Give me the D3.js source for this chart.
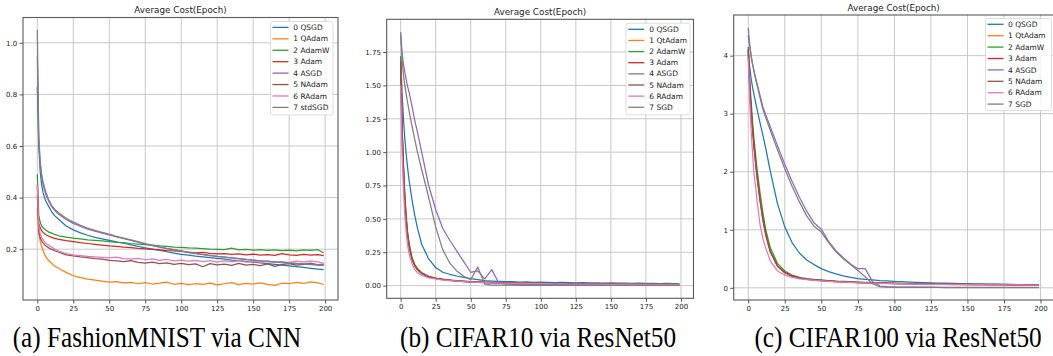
<!DOCTYPE html>
<html><head><meta charset="utf-8">
<script src="https://cdn.jsdelivr.net/npm/d3@7/dist/d3.min.js"></script>
<style>
html,body{margin:0;padding:0;background:#fff;}
svg{display:block;}
text{font-family:"DejaVu Sans",sans-serif;}
</style></head><body>
<svg id="chart" width="1053" height="356"></svg>
<script>
// ---------- data ----------
const epochs = [0,1,2,3,4,5,6,8,10,12,15,20,25,30,35,40,45,50,55,60,65,70,75,80,85,90,95,100,105,110,115,120,125,130,135,140,145,150,155,160,165,170,175,180,185,190,195,199];
const xTicks = [0,25,50,75,100,125,150,175,200];
const titleText = "Average Cost(Epoch)";
const labelsA = ["0 QSGD","1 QAdam","2 AdamW","3 Adam","4 ASGD","5 NAdam","6 RAdam","7 stdSGD"];
const labelsB = ["0 QSGD","1 QtAdam","2 AdamW","3 Adam","4 ASGD","5 NAdam","6 RAdam","7 SGD"];
const labelsC = ["0 QSGD","1 QtAdam","2 AdamW","3 Adam","4 ASGD","5 NAdam","6 RAdam","7 SGD"];
const yTicksA = [0.2,0.4,0.6,0.8,1.0];
const yTicksB = [0,0.25,0.5,0.75,1.0,1.25,1.5,1.75];
const yTicksC = [0,1,2,3,4];
const captions = ["(a) FashionMNIST via CNN","(b) CIFAR10 via ResNet50","(c) CIFAR100 via ResNet50"];
const colors = ["#1f77b4","#ff7f0e","#2ca02c","#d62728","#9467bd","#8c564b","#e377c2","#7f7f7f"];

// (a) FashionMNIST via CNN
const qsgdA   = [0.83,0.60,0.50,0.45,0.42,0.40,0.385,0.365,0.345,0.33,0.315,0.29,0.275,0.263,0.254,0.246,0.240,0.234,0.228,0.223,0.217,0.211,0.205,0.200,0.195,0.190,0.185,0.180,0.177,0.173,0.170,0.167,0.164,0.161,0.158,0.156,0.153,0.150,0.147,0.144,0.141,0.138,0.135,0.132,0.129,0.126,0.123,0.121];
const qadamA  = [0.36,0.26,0.23,0.21,0.195,0.18,0.17,0.155,0.145,0.135,0.125,0.11,0.097,0.09,0.084,0.08,0.076,0.072,0.074,0.069,0.071,0.066,0.070,0.065,0.068,0.072,0.064,0.067,0.063,0.066,0.064,0.068,0.062,0.066,0.070,0.063,0.067,0.065,0.069,0.064,0.060,0.068,0.066,0.071,0.067,0.073,0.069,0.063];
const adamwA  = [0.49,0.33,0.305,0.29,0.283,0.278,0.273,0.266,0.262,0.257,0.252,0.247,0.243,0.240,0.236,0.234,0.232,0.229,0.226,0.225,0.222,0.220,0.218,0.216,0.213,0.211,0.208,0.207,0.205,0.204,0.202,0.200,0.199,0.198,0.204,0.197,0.199,0.196,0.198,0.195,0.197,0.194,0.196,0.193,0.197,0.195,0.198,0.185];
const adamA   = [0.45,0.30,0.283,0.272,0.265,0.26,0.256,0.25,0.246,0.242,0.238,0.233,0.229,0.225,0.222,0.219,0.216,0.213,0.211,0.208,0.206,0.203,0.201,0.199,0.197,0.194,0.193,0.191,0.189,0.186,0.188,0.184,0.182,0.183,0.180,0.182,0.178,0.181,0.177,0.179,0.176,0.183,0.178,0.176,0.180,0.177,0.179,0.175];
const asgdA   = [0.95,0.62,0.53,0.48,0.45,0.43,0.41,0.385,0.365,0.35,0.335,0.315,0.300,0.288,0.278,0.270,0.262,0.255,0.248,0.241,0.234,0.227,0.220,0.214,0.208,0.202,0.197,0.192,0.187,0.183,0.179,0.175,0.172,0.169,0.166,0.163,0.160,0.157,0.155,0.152,0.150,0.148,0.146,0.144,0.142,0.140,0.138,0.137];
const nadamA  = [0.41,0.27,0.245,0.232,0.224,0.218,0.212,0.205,0.199,0.194,0.188,0.178,0.174,0.170,0.167,0.163,0.161,0.157,0.155,0.152,0.156,0.149,0.146,0.150,0.144,0.147,0.141,0.145,0.140,0.143,0.132,0.144,0.139,0.142,0.137,0.145,0.138,0.141,0.136,0.143,0.133,0.140,0.144,0.138,0.141,0.146,0.139,0.142];
const radamA  = [0.45,0.29,0.26,0.245,0.236,0.229,0.223,0.215,0.208,0.20,0.193,0.183,0.178,0.175,0.172,0.170,0.168,0.166,0.169,0.163,0.161,0.164,0.159,0.162,0.157,0.160,0.155,0.158,0.154,0.157,0.152,0.156,0.150,0.155,0.151,0.156,0.150,0.153,0.149,0.155,0.150,0.152,0.148,0.154,0.150,0.155,0.151,0.145];
const stdsgdA = [1.05,0.64,0.54,0.49,0.46,0.44,0.42,0.39,0.37,0.355,0.34,0.32,0.305,0.292,0.282,0.273,0.265,0.258,0.250,0.243,0.236,0.229,0.222,0.215,0.209,0.203,0.198,0.193,0.188,0.184,0.180,0.176,0.172,0.169,0.166,0.163,0.160,0.158,0.155,0.153,0.151,0.149,0.147,0.145,0.143,0.142,0.140,0.139];

// (b) CIFAR10 via ResNet50
const qsgdB   = [1.72,1.45,1.25,1.10,0.98,0.88,0.79,0.65,0.53,0.43,0.31,0.20,0.135,0.10,0.085,0.072,0.062,0.052,0.045,0.038,0.034,0.031,0.029,0.030,0.027,0.028,0.025,0.026,0.024,0.023,0.024,0.022,0.021,0.022,0.020,0.021,0.019,0.020,0.018,0.019,0.017,0.018,0.016,0.017,0.015,0.016,0.015,0.013];
const qtadamB = [1.70,1.20,0.90,0.66,0.50,0.39,0.31,0.21,0.155,0.125,0.095,0.068,0.056,0.047,0.041,0.036,0.032,0.029,0.027,0.025,0.023,0.022,0.020,0.019,0.018,0.017,0.016,0.016,0.015,0.014,0.014,0.013,0.013,0.012,0.012,0.012,0.011,0.011,0.011,0.010,0.010,0.010,0.010,0.009,0.009,0.009,0.009,0.008];
const adamwB  = [1.72,1.22,0.92,0.68,0.52,0.40,0.32,0.215,0.16,0.128,0.097,0.070,0.057,0.048,0.042,0.037,0.033,0.030,0.028,0.026,0.024,0.023,0.021,0.020,0.019,0.018,0.017,0.017,0.016,0.015,0.015,0.014,0.014,0.013,0.013,0.013,0.012,0.012,0.012,0.011,0.011,0.011,0.011,0.010,0.010,0.010,0.010,0.009];
const adamB   = [1.68,1.18,0.88,0.65,0.49,0.38,0.30,0.205,0.152,0.122,0.093,0.067,0.055,0.046,0.040,0.035,0.031,0.028,0.026,0.024,0.022,0.021,0.020,0.019,0.018,0.017,0.016,0.016,0.015,0.014,0.014,0.013,0.013,0.012,0.012,0.012,0.011,0.011,0.011,0.010,0.010,0.010,0.010,0.009,0.009,0.009,0.009,0.008];
const asgdB   = [1.90,1.75,1.66,1.60,1.54,1.49,1.45,1.35,1.24,1.15,1.00,0.75,0.57,0.43,0.34,0.26,0.18,0.10,0.11,0.05,0.12,0.02,0.012,0.010,0.009,0.009,0.008,0.008,0.008,0.007,0.007,0.007,0.007,0.006,0.006,0.006,0.006,0.006,0.006,0.005,0.005,0.005,0.005,0.005,0.005,0.005,0.005,0.005];
const nadamB  = [1.66,1.15,0.86,0.63,0.48,0.37,0.29,0.20,0.148,0.118,0.09,0.065,0.053,0.045,0.039,0.034,0.030,0.027,0.025,0.023,0.021,0.020,0.019,0.018,0.017,0.016,0.015,0.015,0.014,0.013,0.013,0.012,0.012,0.011,0.011,0.011,0.010,0.010,0.010,0.009,0.009,0.009,0.009,0.008,0.008,0.008,0.008,0.007];
const radamB  = [1.50,1.00,0.72,0.52,0.39,0.30,0.24,0.165,0.12,0.098,0.076,0.058,0.050,0.042,0.037,0.033,0.029,0.026,0.024,0.022,0.020,0.019,0.018,0.017,0.016,0.015,0.015,0.014,0.014,0.013,0.013,0.012,0.012,0.011,0.011,0.011,0.010,0.010,0.010,0.009,0.009,0.009,0.009,0.008,0.008,0.008,0.008,0.007];
const sgdB    = [1.88,1.70,1.58,1.50,1.43,1.37,1.31,1.20,1.10,1.00,0.87,0.66,0.44,0.27,0.17,0.11,0.07,0.045,0.14,0.012,0.004,0.003,0.003,0.003,0.002,0.002,0.002,0.002,0.002,0.002,0.002,0.002,0.002,0.002,0.002,0.002,0.002,0.002,0.002,0.002,0.002,0.002,0.002,0.002,0.002,0.002,0.002,0.002];

// (c) CIFAR100 via ResNet50
const qsgdC   = [4.15,3.80,3.60,3.45,3.32,3.20,3.08,2.85,2.63,2.40,2.02,1.45,1.05,0.78,0.60,0.48,0.40,0.33,0.28,0.24,0.205,0.18,0.16,0.145,0.135,0.125,0.118,0.11,0.105,0.10,0.095,0.09,0.086,0.082,0.079,0.076,0.073,0.07,0.068,0.066,0.064,0.062,0.06,0.058,0.056,0.054,0.052,0.05];
const qtadamC = [4.00,3.45,3.05,2.70,2.40,2.15,1.90,1.50,1.16,0.90,0.62,0.37,0.26,0.20,0.17,0.15,0.135,0.125,0.115,0.105,0.10,0.095,0.09,0.085,0.082,0.079,0.076,0.073,0.07,0.068,0.066,0.064,0.062,0.060,0.058,0.057,0.056,0.055,0.054,0.053,0.052,0.051,0.050,0.049,0.048,0.047,0.046,0.045];
const adamwC  = [4.10,3.60,3.20,2.85,2.55,2.30,2.05,1.65,1.30,1.00,0.70,0.42,0.29,0.22,0.18,0.16,0.145,0.135,0.125,0.115,0.11,0.105,0.10,0.095,0.09,0.087,0.084,0.081,0.078,0.076,0.074,0.072,0.07,0.068,0.066,0.065,0.064,0.063,0.062,0.061,0.06,0.059,0.058,0.057,0.056,0.055,0.055,0.055];
const adamC   = [4.10,3.50,3.10,2.75,2.45,2.20,1.95,1.55,1.20,0.93,0.64,0.38,0.265,0.205,0.17,0.15,0.137,0.127,0.118,0.11,0.104,0.098,0.093,0.089,0.085,0.082,0.079,0.076,0.074,0.071,0.069,0.067,0.065,0.063,0.062,0.06,0.059,0.058,0.057,0.056,0.055,0.054,0.053,0.052,0.051,0.05,0.05,0.049];
const asgdC   = [4.35,4.15,3.98,3.85,3.73,3.62,3.52,3.32,3.12,2.98,2.78,2.45,2.13,1.83,1.56,1.32,1.12,1.01,0.80,0.64,0.52,0.41,0.33,0.33,0.11,0.03,0.02,0.015,0.013,0.012,0.011,0.010,0.010,0.009,0.009,0.009,0.008,0.008,0.008,0.008,0.008,0.007,0.007,0.007,0.007,0.007,0.007,0.007];
const nadamC  = [4.05,3.45,3.05,2.70,2.40,2.15,1.92,1.52,1.18,0.91,0.63,0.37,0.26,0.20,0.167,0.147,0.134,0.124,0.115,0.108,0.101,0.096,0.091,0.087,0.083,0.08,0.077,0.074,0.072,0.07,0.068,0.066,0.064,0.062,0.061,0.059,0.058,0.057,0.056,0.055,0.054,0.053,0.052,0.051,0.05,0.049,0.049,0.048];
const radamC  = [3.95,3.20,2.70,2.30,1.95,1.75,1.50,1.10,0.85,0.68,0.47,0.29,0.22,0.18,0.155,0.14,0.128,0.118,0.11,0.103,0.097,0.092,0.087,0.083,0.079,0.076,0.073,0.07,0.068,0.066,0.064,0.062,0.06,0.059,0.058,0.057,0.056,0.055,0.054,0.053,0.052,0.051,0.05,0.05,0.049,0.048,0.048,0.047];
const sgdC    = [4.48,4.20,4.00,3.85,3.72,3.60,3.50,3.28,3.08,2.93,2.72,2.38,2.05,1.75,1.48,1.24,1.06,0.96,0.78,0.62,0.50,0.40,0.30,0.19,0.07,0.02,0.01,0.008,0.007,0.007,0.006,0.006,0.006,0.006,0.005,0.005,0.005,0.005,0.005,0.005,0.005,0.005,0.005,0.005,0.005,0.005,0.005,0.005];

// ---------- layout ----------
const panels = [
  {series:[qsgdA,qadamA,adamwA,adamA,asgdA,nadamA,radamA,stdsgdA], labels:labelsA, yTicks:yTicksA, yFmt:d3.format(".1f"),
   x0:23, x1:338, y0:17.5, y1:300, yDom:[0.003,1.098], leg:{x:270.5,y:21.5,w:62.5,h:93.5,ly:27.4,dy:11.43,lx:272.5,tx:293.3}, cap:{x:157}},
  {series:[qsgdB,qtadamB,adamwB,adamB,asgdB,nadamB,radamB,sgdB], labels:labelsB, yTicks:yTicksB, yFmt:d3.format(".2f"),
   x0:386.7, x1:693.5, y0:19.3, y1:298.3, yDom:[-0.095,1.995], leg:{x:626,y:23.3,w:64,h:91.5,ly:29.3,dy:11.14,lx:628.3,tx:649.3}, cap:{x:538}},
  {series:[qsgdC,qtadamC,adamwC,adamC,asgdC,nadamC,radamC,sgdC], labels:labelsC, yTicks:yTicksC, yFmt:d3.format("d"),
   x0:733.7, x1:1053.6, y0:15, y1:300, yDom:[-0.21,4.70], leg:{x:985.5,y:18.5,w:66,h:92,ly:24.3,dy:11.4,lx:987.5,tx:1008}, cap:{x:898}}
];

const svg = d3.select("#chart");
const defs = svg.append("defs");

panels.forEach((p, pi) => {
  const x = d3.scaleLinear().domain([-9.95, 208.95]).range([p.x0, p.x1]);
  const y = d3.scaleLinear().domain(p.yDom).range([p.y1, p.y0]);
  const g = svg.append("g");

  defs.append("clipPath").attr("id", "clip" + pi)
    .append("rect").attr("x", p.x0).attr("y", p.y0).attr("width", p.x1 - p.x0).attr("height", p.y1 - p.y0);

  // grid
  g.append("g").selectAll("line").data(xTicks).join("line")
    .attr("x1", d => x(d)).attr("x2", d => x(d)).attr("y1", p.y0).attr("y2", p.y1)
    .attr("stroke", "#c8c8c8").attr("stroke-width", 1);
  g.append("g").selectAll("line").data(p.yTicks).join("line")
    .attr("x1", p.x0).attr("x2", p.x1).attr("y1", d => y(d)).attr("y2", d => y(d))
    .attr("stroke", "#c8c8c8").attr("stroke-width", 1);

  // lines
  const line = d3.line().x((d, i) => x(epochs[i])).y(d => y(d));
  const lg = g.append("g").attr("clip-path", `url(#clip${pi})`);
  p.series.forEach((s, si) => {
    lg.append("path").datum(s).attr("d", line)
      .attr("fill", "none").attr("stroke", colors[si]).attr("stroke-width", 1.25)
      .attr("stroke-linejoin", "round");
  });

  // frame
  g.append("rect").attr("x", p.x0).attr("y", p.y0).attr("width", p.x1 - p.x0).attr("height", p.y1 - p.y0)
    .attr("fill", "none").attr("stroke", "#5a5a5a").attr("stroke-width", 1.1);

  // axes
  const ax = g.append("g").attr("transform", `translate(0,${p.y1})`)
    .call(d3.axisBottom(x).tickValues(xTicks).tickSize(3.5).tickPadding(2.5).tickFormat(d3.format("d")));
  const ay = g.append("g").attr("transform", `translate(${p.x0},0)`)
    .call(d3.axisLeft(y).tickValues(p.yTicks).tickSize(3.5).tickPadding(2.3).tickFormat(p.yFmt));
  [ax, ay].forEach(a => {
    a.select(".domain").remove();
    a.selectAll(".tick line").attr("stroke", "#444").attr("stroke-width", 0.9);
    a.selectAll(".tick text").attr("fill", "#222").style("font-size", "7px").style("font-family", "DejaVu Sans");
  });

  // title
  g.append("text").attr("x", (p.x0 + p.x1) / 2).attr("y", p.y0 - 4.3)
    .attr("text-anchor", "middle").style("font-size", "8.8px").attr("fill", "#222").text(titleText);

  // legend
  const L = p.leg;
  g.append("rect").attr("x", L.x).attr("y", L.y).attr("width", L.w).attr("height", L.h).attr("rx", 2)
    .attr("fill", "#fff").attr("fill-opacity", 0.85).attr("stroke", "#d6d6d6").attr("stroke-width", 0.8);
  p.labels.forEach((lab, i) => {
    const yy = L.ly + i * L.dy;
    g.append("line").attr("x1", L.lx).attr("x2", L.lx + 16).attr("y1", yy).attr("y2", yy)
      .attr("stroke", colors[i]).attr("stroke-width", 1.3);
    g.append("text").attr("x", L.tx).attr("y", yy).attr("dy", "0.35em")
      .style("font-size", "7.5px").attr("fill", "#222").text(lab);
  });

  // caption
  svg.append("text").attr("transform", `translate(${p.cap.x},347) scale(0.97,1.12)`)
    .attr("text-anchor", "middle")
    .style("font-family", "'Liberation Serif', 'Times New Roman', serif").style("font-size", "26px")
    .attr("fill", "#000").text(captions[pi]);
});
</script>
</body></html>
